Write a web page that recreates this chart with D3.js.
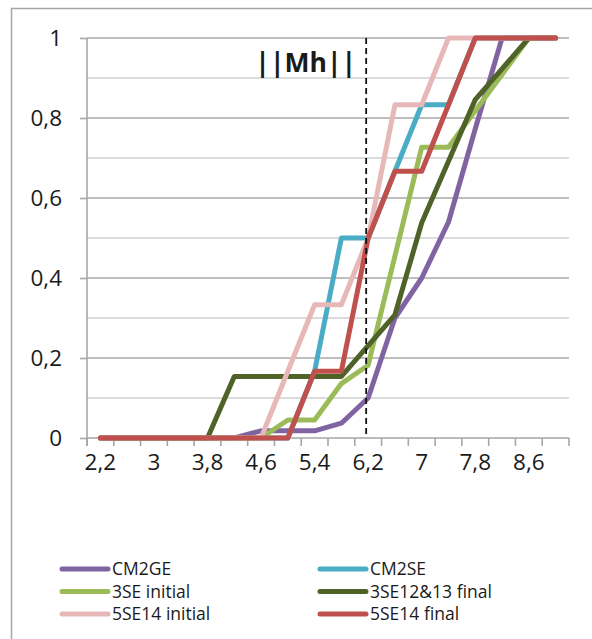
<!DOCTYPE html>
<html><head><meta charset="utf-8">
<script src="https://cdn.jsdelivr.net/npm/d3@7/dist/d3.min.js"></script>
<style>html,body{margin:0;padding:0;background:#fff;}svg{display:block;}</style>
</head><body>
<script>
const categories = ["2,2","2,6","3","3,4","3,8","4,2","4,6","5","5,4","5,8","6,2","6,6","7","7,4","7,8","8,2","8,6","9"];
const categoryValues = [2.2,2.6,3.0,3.4,3.8,4.2,4.6,5.0,5.4,5.8,6.2,6.6,7.0,7.4,7.8,8.2,8.6,9.0];
const yTicks = [0,0.2,0.4,0.6,0.8,1];
const yTickLabels = ["0","0,2","0,4","0,6","0,8","1"];
const gridValues = [0.1,0.2,0.3,0.4,0.5,0.6,0.7,0.8,0.9,1];
const seriesNames = ["CM2GE","CM2SE","3SE initial","3SE12&13 final","5SE14 initial","5SE14 final"];
const seriesColors = ["#8064A2","#4BACC6","#9BBB59","#4F6228","#E6B9B8","#C0504D"];
const cm2ge   = [0,0,0,0,0,0,0.018,0.018,0.018,0.037,0.1,0.3,0.4,0.54,0.773,1,1,1];
const cm2se   = [0,0,0,0,0,0,0,0,0.167,0.5,0.5,0.667,0.833,0.833,1,1,1,1];
const se3init = [0,0,0,0,0,0,0,0.045,0.045,0.136,0.182,0.455,0.727,0.727,0.818,0.909,1,1];
const se3final= [0,0,0,0,0,0.154,0.154,0.154,0.154,0.154,0.231,0.308,0.538,0.692,0.846,0.923,1,1];
const se5init = [0,0,0,0,0,0,0,0.167,0.333,0.333,0.5,0.833,0.833,1,1,1,1,1];
const se5final= [0,0,0,0,0,0,0,0,0.167,0.167,0.5,0.667,0.667,0.833,1,1,1,1];
const seriesValues = [cm2ge, cm2se, se3init, se3final, se5init, se5final];
const mhValue = 6.17;
const mhLabel = "||Mh||";

const W = 592, H = 639;
const pLeft = 87, pRight = 569, pTop = 38, pBottom = 438;
const font = "'Open Sans', 'Liberation Sans', sans-serif";

const svg = d3.select("body").append("svg").attr("width", W).attr("height", H);

// outer border
svg.append("rect").attr("x", 11.5).attr("y", 8.5).attr("width", W + 20).attr("height", H + 20)
  .attr("fill", "none").attr("stroke", "#a6a6a6").attr("stroke-width", 1.5);

const x = d3.scaleBand().domain(categories).range([pLeft, pRight]).padding(0);
const y = d3.scaleLinear().domain([0, 1]).range([pBottom, pTop]);
const bw = x.bandwidth();
const cx = c => x(c) + bw / 2;
const xv = d3.scaleLinear().domain([categoryValues[0], categoryValues[categoryValues.length - 1]])
  .range([cx(categories[0]), cx(categories[categories.length - 1])]);

// gridlines
svg.append("g").selectAll("line").data(gridValues).join("line")
  .attr("x1", pLeft).attr("x2", pRight)
  .attr("y1", d => y(d)).attr("y2", d => y(d))
  .attr("stroke", (d, i) => (i % 2 === 1) ? "#a9a9a9" : "#cfcfcf")
  .attr("stroke-width", 1.6);

// y axis
const yAxis = d3.axisLeft(y).tickValues(yTicks).tickSize(7).tickFormat((d, i) => yTickLabels[i]);
const gy = svg.append("g").attr("transform", `translate(${pLeft},0)`).call(yAxis);
gy.select(".domain").attr("stroke", "#a6a6a6").attr("stroke-width", 1.6).attr("d", `M0,${pTop}V${pBottom + 8}`);
gy.selectAll(".tick line").attr("stroke", "#a6a6a6").attr("stroke-width", 1.6);
gy.selectAll(".tick text").attr("x", -25).attr("font-family", font).attr("font-size", 22.5).attr("fill", "#1a1a1a");

// x axis
const xAxis = d3.axisBottom(x).tickSize(0).tickFormat((d, i) => i % 2 === 0 ? d : "");
const gx = svg.append("g").attr("transform", `translate(0,${pBottom})`).call(xAxis);
gx.select(".domain").attr("stroke", "#a6a6a6").attr("stroke-width", 1.6).attr("d", `M${pLeft},0H${pRight}`);
gx.selectAll(".tick text").attr("y", 16).attr("font-family", font).attr("font-size", 22.5).attr("fill", "#1a1a1a");
const bounds = categories.map(c => x(c)).concat([pRight]);
svg.append("g").selectAll("line").data(bounds).join("line")
  .attr("x1", d => d).attr("x2", d => d).attr("y1", pBottom).attr("y2", pBottom + 8)
  .attr("stroke", "#a6a6a6").attr("stroke-width", 1.6);

// series
const line = d3.line().x((d, i) => cx(categories[i])).y(d => y(d));
svg.append("g").selectAll("path").data(seriesValues).join("path")
  .attr("d", d => line(d)).attr("fill", "none")
  .attr("stroke", (d, i) => seriesColors[i]).attr("stroke-width", 5)
  .attr("stroke-linejoin", "round").attr("stroke-linecap", "round");

// Mh marker
svg.append("line").attr("x1", xv(mhValue)).attr("x2", xv(mhValue)).attr("y1", pTop).attr("y2", pBottom)
  .attr("stroke", "#111").attr("stroke-width", 1.8).attr("stroke-dasharray", "6,4");
svg.append("text").attr("x", xv(mhValue) - 10).attr("y", 72).attr("text-anchor", "end")
  .attr("font-family", font).attr("font-weight", "bold").attr("font-size", 26.5).attr("fill", "#1a1a1a")
  .text(mhLabel);

// legend
const legendX = [62, 320], legendY0 = 569, legendDy = 22.5;
const lg = svg.append("g").selectAll("g").data(seriesNames).join("g")
  .attr("transform", (d, i) => `translate(${legendX[i % 2]},${legendY0 + Math.floor(i / 2) * legendDy})`);
lg.append("line").attr("x1", 0).attr("x2", 46).attr("y1", 0).attr("y2", 0)
  .attr("stroke", (d, i) => seriesColors[i]).attr("stroke-width", 5).attr("stroke-linecap", "round");
lg.append("text").attr("x", 50).attr("y", 0).attr("dy", "0.35em")
  .attr("font-family", font).attr("font-size", 17.5).attr("fill", "#1a1a1a").text(d => d);
</script>
</body></html>
